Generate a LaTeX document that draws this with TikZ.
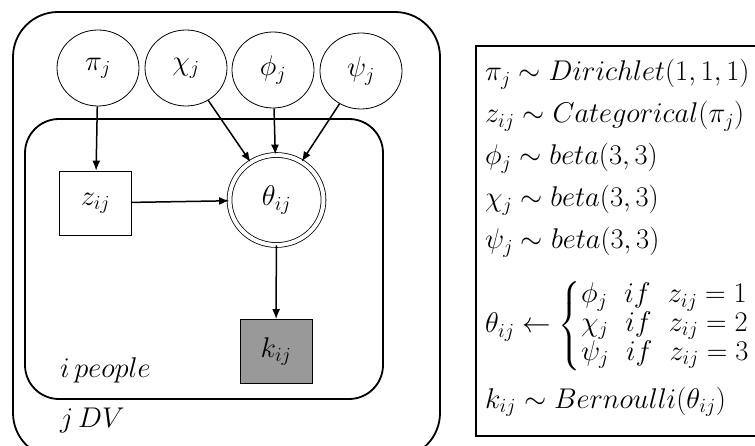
\RequirePackage{fix-cm}
\documentclass[tikz,border=0pt]{standalone}
\usepackage{amsmath}
\usetikzlibrary{arrows.meta,shapes.geometric}
\begin{document}
\begin{tikzpicture}[x=1pt,y=-1pt,
  font=\fontsize{28.5}{34}\selectfont,
  plate/.style={draw,line width=1.8pt},
  latent/.style={draw,ellipse,line width=0.8pt,minimum width=82pt,minimum height=76pt,inner sep=0pt},
  detnode/.style={draw,ellipse,double,double distance=4pt,line width=0.8pt,minimum width=94pt,minimum height=90pt,inner sep=0pt},
  obsbox/.style={draw,rectangle,line width=0.8pt,minimum width=72pt,minimum height=64pt,inner sep=0pt},
  edge/.style={line width=1.5pt,-{Latex[length=10pt,width=8pt]}},
  spec/.style={anchor=base west,inner sep=0pt}]
\useasboundingbox (0,0) rectangle (755,446);
\clip (0,0) rectangle (755,446);
% plates
\draw[plate,rounded corners=45pt] (13,12) rectangle (440,458);
\draw[plate,rounded corners=34pt] (25,119) rectangle (383,399);
\node[anchor=base west,inner sep=0pt] (ipeople) at (60,377) {$i\,people$};
\node[anchor=base west,inner sep=0pt] (jdv) at (60,427) {$j\,DV$};
% nodes
\node[latent] (pi) at (98,68) {$\pi_j$};
\node[latent] (chi) at (186,68) {$\chi_j$};
\node[latent] (phi) at (273,70) {$\phi_j$};
\node[latent] (psi) at (361,71) {$\psi_j$};
\node[obsbox] (z) at (95.5,203) {$z_{ij}$};
\node[detnode] (theta) at (276.5,200) {$\theta_{ij}$};
\node[obsbox,fill=black!40] (k) at (276,351.5) {$k_{ij}$};
% edges
\draw[edge] (pi) -- (z);
\draw[edge] (z) -- (theta);
\draw[edge] (chi) -- (theta);
\draw[edge] (phi) -- (theta);
\draw[edge] (psi) -- (theta);
\draw[edge] (theta) -- (k);
% specification box
\node[draw,line width=1.8pt,rectangle,anchor=north west,minimum width=290pt,minimum height=390pt,inner sep=0pt] (specbox) at (475,45) {};
\node[spec] (l1) at (485,81) {$\pi_j \sim Dirichlet(1,1,1)$};
\node[spec] (l2) at (485,123) {$z_{ij} \sim Categorical(\pi_j)$};
\node[spec] (l3) at (485,165) {$\phi_j \sim beta(3,3)$};
\node[spec] (l4) at (485,207) {$\chi_j \sim beta(3,3)$};
\node[spec] (l5) at (485,249) {$\psi_j \sim beta(3,3)$};
\node[spec] (l6) at (485,333) {$\theta_{ij} \leftarrow \left\{\renewcommand{\arraystretch}{0.85}\begin{array}{@{}l@{}}
\phi_j\ \ if\ \ z_{ij}=1\\
\chi_j\ \ if\ \ z_{ij}=2\\
\psi_j\ \ if\ \ z_{ij}=3
\end{array}\right.$};
\node[spec] (l7) at (485,408) {$k_{ij} \sim Bernoulli(\theta_{ij})$};
\end{tikzpicture}
\end{document}
